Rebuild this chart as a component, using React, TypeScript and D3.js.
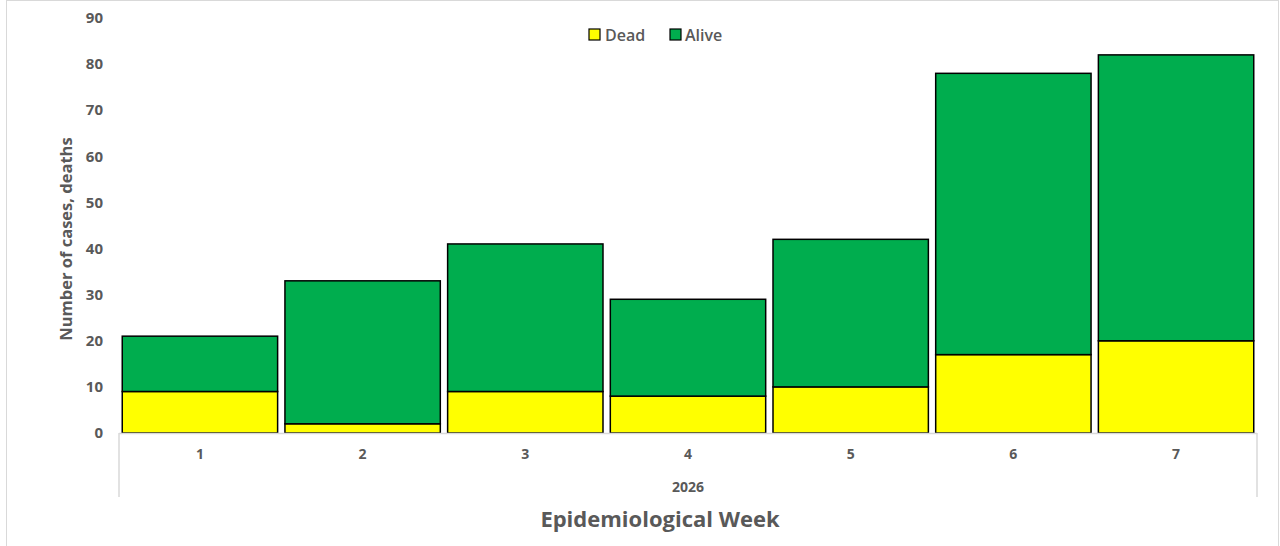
import React from "react";
import * as d3 from "d3";

const weeks = ["1", "2", "3", "4", "5", "6", "7"];
const dead = [9, 2, 9, 8, 10, 17, 20];
const alive = [12, 31, 32, 21, 32, 61, 62];
const yTicks = [0, 10, 20, 30, 40, 50, 60, 70, 80, 90];
const yearLabel = "2026";

const W = 1280;
const H = 546;
const FONT = "'Open Sans', 'DejaVu Sans', sans-serif";
const GREY = "#595959";

export default function App() {
  const margin = { left: 119, right: 23, top: 18, bottom: 113 };
  const x = d3
    .scaleBand<string>()
    .domain(weeks)
    .range([margin.left, W - margin.right])
    .paddingInner(0.045)
    .paddingOuter(0.02);
  const y = d3.scaleLinear().domain([0, 90]).range([H - margin.bottom, margin.top]);

  const rows = weeks.map((w, i) => ({ w, dead: dead[i], alive: alive[i] }));
  const stacked = d3.stack<any>().keys(["dead", "alive"])(rows);
  const colors: Record<string, string> = { dead: "#ffff00", alive: "#00ad4e" };

  const y0 = y(0);
  const xl = margin.left;
  const xr = W - margin.right;

  return (
    <div style={{ position: "absolute", left: 0, top: 0 }}>
      <svg width={W} height={H} style={{ display: "block", fontFamily: FONT }}>
        <rect x={0} y={0} width={W} height={H} fill="#fff" />
        {/* outer chart frame */}
        <rect x={6.5} y={0.5} width={W - 8} height={H + 4} fill="none" stroke="#d9d9d9" />

        {/* y tick labels */}
        {yTicks.map((t) => (
          <text
            key={t}
            x={103}
            y={y(t)}
            dy="0.35em"
            textAnchor="end"
            fontSize={15}
            fontWeight={700}
            fill={GREY}
          >
            {t}
          </text>
        ))}

        {/* bars */}
        {stacked.map((layer) => (
          <g key={layer.key} fill={colors[layer.key]}>
            {layer.map((d, i) => (
              <rect
                key={i}
                x={x(weeks[i])!}
                y={y(d[1])}
                width={x.bandwidth()}
                height={y(d[0]) - y(d[1])}
                stroke="#000"
                strokeWidth={1.5}
              />
            ))}
          </g>
        ))}

        {/* category axis */}
        <line x1={xl} x2={xr} y1={y0 + 0.5} y2={y0 + 0.5} stroke="#d9d9d9" strokeWidth={1.5} />
        <line x1={xl} x2={xl} y1={y0} y2={y0 + 64} stroke="#d9d9d9" strokeWidth={1.5} />
        <line x1={xr} x2={xr} y1={y0} y2={y0 + 64} stroke="#d9d9d9" strokeWidth={1.5} />
        {weeks.map((w) => (
          <text
            key={w}
            x={x(w)! + x.bandwidth() / 2}
            y={y0 + 21}
            dy="0.35em"
            textAnchor="middle"
            fontSize={14}
            fontWeight={700}
            fill={GREY}
          >
            {w}
          </text>
        ))}
        <text
          x={(xl + xr) / 2}
          y={y0 + 54}
          dy="0.35em"
          textAnchor="middle"
          fontSize={14}
          fontWeight={700}
          fill={GREY}
        >
          {yearLabel}
        </text>

        {/* axis titles */}
        <text
          x={660}
          y={519}
          dy="0.35em"
          textAnchor="middle"
          fontSize={22}
          fontWeight={700}
          fill={GREY}
        >
          Epidemiological Week
        </text>
        <text
          transform={`translate(66,239) rotate(-90)`}
          dy="0.35em"
          textAnchor="middle"
          fontSize={16.5}
          fontWeight={700}
          fill={GREY}
        >
          Number of cases, deaths
        </text>

        {/* legend */}
        <g>
          <rect x={589} y={29} width={11} height={11} fill={colors.dead} stroke="#000" strokeWidth={1.2} />
          <text x={605} y={35} dy="0.35em" fontSize={16} fontWeight={600} fill={GREY}>
            Dead
          </text>
          <rect x={670} y={29} width={11} height={11} fill={colors.alive} stroke="#000" strokeWidth={1.2} />
          <text x={685} y={35} dy="0.35em" fontSize={16} fontWeight={600} fill={GREY}>
            Alive
          </text>
        </g>
      </svg>
    </div>
  );
}
